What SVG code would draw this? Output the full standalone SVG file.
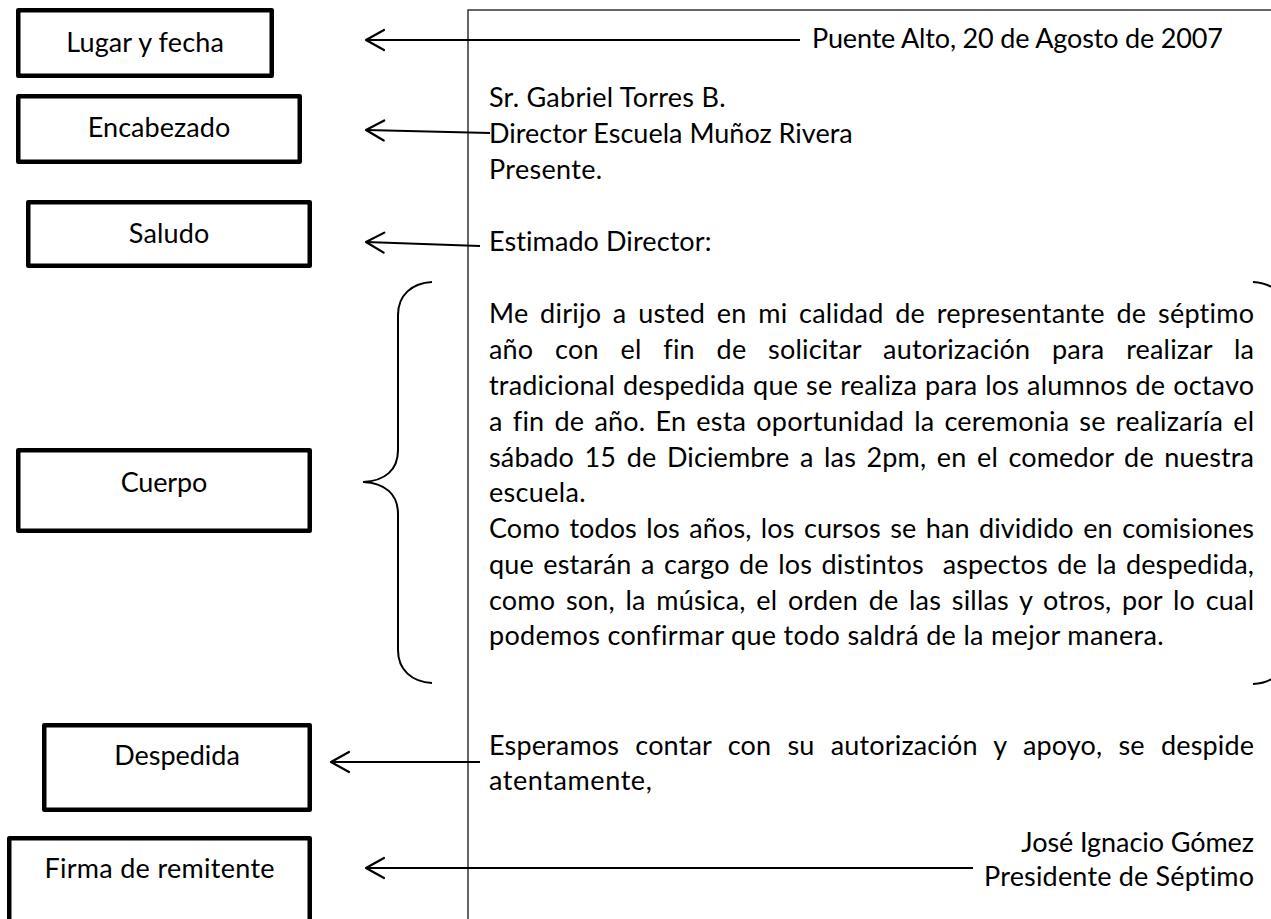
<svg xmlns="http://www.w3.org/2000/svg" width="1271" height="919" viewBox="0 0 1271 919">
<style>
text{font-family:"Lato","Carlito","Liberation Sans",sans-serif;font-size:27px;fill:#000;font-variant-ligatures:none;font-feature-settings:"liga" 0}
.lbl{text-anchor:middle}
.box{fill:#fff;stroke:#000;stroke-width:4.5;stroke-linejoin:round}
.frame{fill:none;stroke:#333;stroke-width:1.5}
.arrow{fill:none;stroke:#000;stroke-width:2.2;marker-end:url(#arr)}
.brace{fill:none;stroke:#000;stroke-width:2}
.pre{white-space:pre}
</style>
<defs>
<marker id="arr" markerUnits="userSpaceOnUse" orient="auto" refX="0" refY="0" markerWidth="30" markerHeight="30" viewBox="-25 -15 30 30" overflow="visible">
<path d="M-18,-10 L0,0 L-18,10" fill="none" stroke="#000" stroke-width="2.2" stroke-linecap="round" stroke-linejoin="round"/>
</marker>
</defs>
<rect width="1271" height="919" fill="#fff"/>

<g id="letter">
<path class="frame" d="M468,919 L468,10 L1271,10"/>
<text x="812" y="48" textLength="411" lengthAdjust="spacing">Puente Alto, 20 de Agosto de 2007</text>
<text x="489" y="107" textLength="236.6" lengthAdjust="spacing">Sr. Gabriel Torres B.</text>
<text x="489" y="143" textLength="363.7" lengthAdjust="spacing">Director Escuela Muñoz Rivera</text>
<text x="489" y="179" textLength="113.2" lengthAdjust="spacing">Presente.</text>
<text x="489" y="251" textLength="222.4" lengthAdjust="spacing">Estimado Director:</text>
<text x="489" y="323" word-spacing="4.5" textLength="765" lengthAdjust="spacing">Me dirijo a usted en mi calidad de representante de séptimo</text>
<text x="489" y="359" word-spacing="14.7" textLength="765" lengthAdjust="spacing">año con el fin de solicitar autorización para realizar la</text>
<text x="489" y="395" word-spacing="0.8" textLength="765" lengthAdjust="spacing">tradicional despedida que se realiza para los alumnos de octavo</text>
<text x="489" y="431" word-spacing="3" textLength="765" lengthAdjust="spacing">a fin de año. En esta oportunidad la ceremonia se realizaría el</text>
<text x="489" y="467" word-spacing="3.5" textLength="765" lengthAdjust="spacing">sábado 15 de Diciembre a las 2pm, en el comedor de nuestra</text>
<text x="489" y="502" textLength="96.5" lengthAdjust="spacing">escuela.</text>
<text x="489" y="538" word-spacing="2.5" textLength="765" lengthAdjust="spacing">Como todos los años, los cursos se han dividido en comisiones</text>
<text class="pre" x="489" y="574" word-spacing="2.4" textLength="765" lengthAdjust="spacing">que estarán a cargo de los distintos  aspectos de la despedida,</text>
<text x="489" y="610" word-spacing="3.5" textLength="765" lengthAdjust="spacing">como son, la música, el orden de las sillas y otros, por lo cual</text>
<text x="489" y="645" textLength="674.6" lengthAdjust="spacing">podemos confirmar que todo saldrá de la mejor manera.</text>
<text x="489" y="755" word-spacing="9.2" textLength="765" lengthAdjust="spacing">Esperamos contar con su autorización y apoyo, se despide</text>
<text x="489" y="790" textLength="162.8" lengthAdjust="spacing">atentamente,</text>
<text x="1021.3" y="852" textLength="232.7" lengthAdjust="spacing">José Ignacio Gómez</text>
<text x="984.1" y="886" textLength="269.9" lengthAdjust="spacing">Presidente de Séptimo</text>
</g>

<g id="braces">
<path class="brace" d="M432,282 C412,283 398,295 398,315 L398,450 C398,470 385,481 363,482 C385,483 398,494 398,514 L398,650 C398,670 412,682 432,683"/>
<path class="brace" d="M1253,282 C1273,283 1287,295 1287,315 M1253,684 C1273,683 1287,671 1287,651"/>
</g>

<g id="node-lugar">
<rect class="box" x="18.25" y="10.25" width="253.5" height="65.5"/>
<text class="lbl" x="145" y="52" textLength="157.6" lengthAdjust="spacing">Lugar y fecha</text>
</g>
<g id="node-encabezado">
<rect class="box" x="18.25" y="96.25" width="281.5" height="65.5"/>
<text class="lbl" x="159" y="137" textLength="142.5" lengthAdjust="spacing">Encabezado</text>
</g>
<g id="node-saludo">
<rect class="box" x="28.25" y="202.25" width="281.5" height="63.5"/>
<text class="lbl" x="169" y="243" textLength="80.4" lengthAdjust="spacing">Saludo</text>
</g>
<g id="node-cuerpo">
<rect class="box" x="18.25" y="450.25" width="291.5" height="80.5"/>
<text class="lbl" x="164" y="492" textLength="86.6" lengthAdjust="spacing">Cuerpo</text>
</g>
<g id="node-despedida">
<rect class="box" x="44.25" y="725.25" width="265.5" height="84.5"/>
<text class="lbl" x="177" y="765" textLength="125.6" lengthAdjust="spacing">Despedida</text>
</g>
<g id="node-firma">
<rect class="box" x="9.25" y="838.25" width="300.5" height="100"/>
<text class="lbl" x="159.5" y="878" textLength="230.2" lengthAdjust="spacing">Firma de remitente</text>
</g>

<g id="connectors">
<line class="arrow" x1="800" y1="40" x2="366" y2="40"/>
<line class="arrow" x1="490" y1="133" x2="366" y2="130"/>
<line class="arrow" x1="480" y1="246" x2="366" y2="242"/>
<line class="arrow" x1="480" y1="762" x2="331" y2="762"/>
<line class="arrow" x1="973" y1="868" x2="366" y2="868"/>
</g>
</svg>
